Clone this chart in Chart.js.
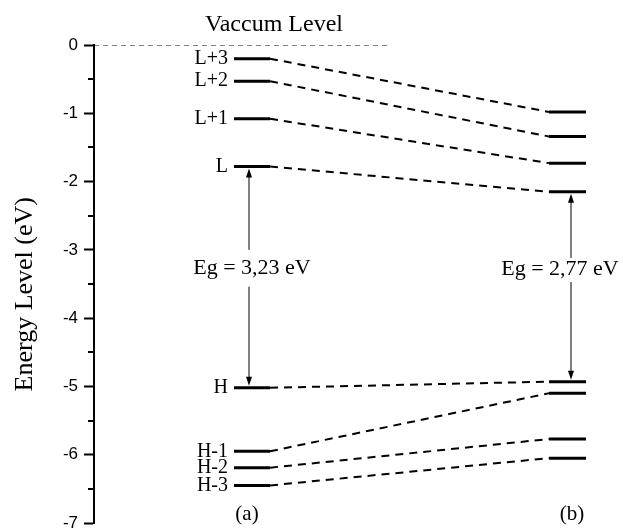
<!DOCTYPE html>
<html>
<head>
<meta charset="utf-8">
<script src="https://cdn.jsdelivr.net/npm/chart.js@4.4.1/dist/chart.umd.min.js"></script>
<style>
  html, body { margin: 0; padding: 0; background: #fff; }
  #wrap { width: 623px; height: 528px; }
</style>
</head>
<body>
<div id="wrap"><canvas id="levels"></canvas></div>
<script>
// energy levels (eV)
const leftNames   = ['L+3', 'L+2', 'L+1', 'L', 'H', 'H-1', 'H-2', 'H-3'];
const leftLevels  = [-0.20, -0.53, -1.08, -1.78, -5.02, -5.95, -6.19, -6.45];
const rightLevels = [-0.98, -1.34, -1.73, -2.15, -4.93, -5.10, -5.77, -6.05];
const gapLabels   = ['Eg = 3,23 eV', 'Eg = 2,77 eV'];
const gapFrom     = [-1.78, -2.15];   // LUMO
const gapTo       = [-5.02, -4.93];   // HOMO
const panelLabels = ['(a)', '(b)'];
const yTitle = 'Energy Level (eV)';
const yMin = -7, yMax = 0;

// horizontal layout in x-units (1 unit ~ 1px from the axis)
const LX = [140, 176], RX = [455, 492], VAC_X = [0, 294];
const ARROW_X = [155, 477], GAP_TXT_X = [158, 466], GAP_TXT_Y = [-3.27, -3.29];
const GAP_HOLE = [[-3.0, -3.54], [-3.12, -3.47]];
const PANEL_X = [153, 478];

const serif = '"Liberation Serif", "Times New Roman", serif';
const sans = '"Liberation Sans", Arial, sans-serif';

const seg = (x0, x1, y0, y1) => [{ x: x0, y: y0 }, { x: x1, y: y1 }];
const datasets = [];

datasets.push({
  data: seg(VAC_X[0], VAC_X[1], 0, 0),
  borderColor: '#000', borderWidth: 1.2, borderDash: [5, 4]
});
leftLevels.forEach((v, i) => {
  datasets.push({ data: seg(LX[0], LX[1], v, v), borderColor: '#000', borderWidth: 3 });
  datasets.push({ data: seg(RX[0], RX[1], rightLevels[i], rightLevels[i]), borderColor: '#000', borderWidth: 3 });
  datasets.push({
    data: seg(LX[1], RX[0], v, rightLevels[i]),
    borderColor: '#000', borderWidth: 2, borderDash: [8, 6]
  });
});

const annot = {
  id: 'annot',
  afterDraw(chart) {
    const { ctx, scales: { x, y } } = chart;
    ctx.save();
    ctx.fillStyle = '#000';
    ctx.strokeStyle = '#000';

    // minor ticks at half units
    ctx.lineWidth = 2;
    for (let v = yMin + 0.5; v < yMax; v += 1) {
      const py = Math.round(y.getPixelForValue(v));
      ctx.beginPath();
      ctx.moveTo(y.right, py);
      ctx.lineTo(y.right - 6, py);
      ctx.stroke();
    }

    ctx.textBaseline = 'middle';
    ctx.textAlign = 'center';

    // axis title, sits a bit below the axis middle in the original
    ctx.save();
    ctx.translate(25, y.getPixelForValue(-3.65));
    ctx.rotate(-Math.PI / 2);
    ctx.font = '26px ' + serif;
    ctx.fillText(yTitle, 0, 0);
    ctx.restore();

    ctx.font = '24px ' + serif;
    ctx.fillText('Vaccum Level', x.getPixelForValue(180), 25);

    ctx.font = '20px ' + serif;
    ctx.textAlign = 'right';
    leftNames.forEach((n, i) => {
      ctx.fillText(n, x.getPixelForValue(LX[0] - 6), y.getPixelForValue(leftLevels[i]));
    });

    ctx.textAlign = 'center';
    gapLabels.forEach((t, i) => {
      const px = x.getPixelForValue(ARROW_X[i]);
      ctx.font = '22px ' + serif;
      ctx.fillText(t, x.getPixelForValue(GAP_TXT_X[i]), y.getPixelForValue(GAP_TXT_Y[i]));
      const top = y.getPixelForValue(gapFrom[i]) + 2;
      const bot = y.getPixelForValue(gapTo[i]) - 2;
      const h0 = y.getPixelForValue(GAP_HOLE[i][0]);
      const h1 = y.getPixelForValue(GAP_HOLE[i][1]);
      ctx.lineWidth = 1;
      ctx.beginPath();
      ctx.moveTo(px, top + 6); ctx.lineTo(px, h0);
      ctx.moveTo(px, h1); ctx.lineTo(px, bot - 6);
      ctx.stroke();
      // heads
      ctx.beginPath();
      ctx.moveTo(px, top); ctx.lineTo(px - 3, top + 9); ctx.lineTo(px + 3, top + 9); ctx.closePath();
      ctx.moveTo(px, bot); ctx.lineTo(px - 3, bot - 9); ctx.lineTo(px + 3, bot - 9); ctx.closePath();
      ctx.fill();
    });

    ctx.font = '21px ' + serif;
    panelLabels.forEach((t, i) => {
      ctx.fillText(t, x.getPixelForValue(PANEL_X[i]), y.getPixelForValue(-6.88));
    });
    ctx.restore();
  }
};

new Chart(document.getElementById('levels').getContext('2d'), {
  type: 'line',
  data: { datasets },
  options: {
    responsive: true,
    maintainAspectRatio: false,
    animation: false,
    events: [],
    layout: { padding: { top: 45, right: 10, bottom: 5, left: 0 } },
    elements: { point: { radius: 0 }, line: { tension: 0 } },
    plugins: { legend: { display: false }, tooltip: { enabled: false } },
    scales: {
      x: { type: 'linear', display: false, min: 0, max: 519 },
      y: {
        min: yMin, max: yMax,
        afterFit: s => { s.width = 94; s.paddingBottom = 0; s.paddingTop = 0; },
        ticks: {
          stepSize: 1, color: '#000', padding: 6,
          font: { family: sans, size: 17 }
        },
        grid: { drawOnChartArea: false, drawTicks: true, tickLength: 10, tickWidth: 2, tickColor: '#000' },
        border: { display: true, color: '#000', width: 2 }
      }
    }
  },
  plugins: [annot]
});
</script>
</body>
</html>
